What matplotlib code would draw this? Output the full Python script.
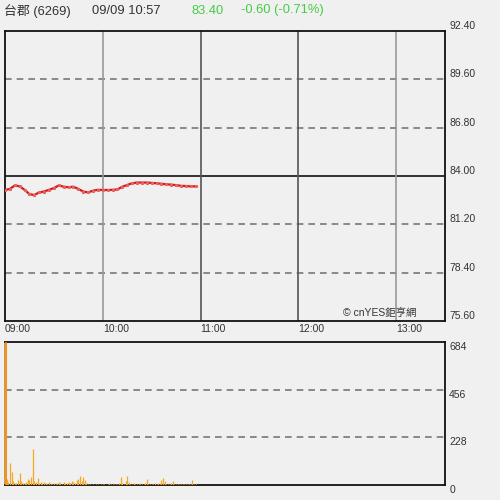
import matplotlib
matplotlib.use("Agg")
import matplotlib.pyplot as plt
import numpy as np

plt.rcParams['font.family'] = ['Liberation Sans', 'Noto Sans CJK TC', 'DejaVu Sans']

# ---- data ----
title_name = "台郡 (6269)"
title_time = "09/09 10:57"
last_price = "83.40"
change_text = "-0.60 (-0.71%)"
prev_close = 84.00

price_minutes = list(range(0, 118, 3))
price_values = [83.19, 83.25, 83.45, 83.40, 83.20, 82.95, 82.90, 83.05, 83.10, 83.20,
                83.30, 83.45, 83.38, 83.35, 83.38, 83.25, 83.10, 83.05, 83.15, 83.20,
                83.19, 83.19, 83.20, 83.22, 83.38, 83.48, 83.58, 83.62, 83.62, 83.62,
                83.60, 83.58, 83.55, 83.52, 83.50, 83.47, 83.43, 83.42, 83.40, 83.40]

volume_minutes = list(range(0, 118))
volume_values = [684, 30, 15, 105, 60, 20, 10, 8, 25, 57,
                 20, 10, 8, 15, 30, 25, 40, 172, 20, 15,
                 33, 10, 12, 8, 15, 10, 6, 12, 8, 5,
                 10, 5, 8, 15, 10, 6, 12, 10, 8, 15,
                 10, 20, 15, 10, 25, 30, 45, 20, 38, 25,
                 10, 5, 3, 2, 4, 2, 5, 3, 2, 6,
                 3, 4, 2, 5, 8, 4, 3, 5, 6, 4,
                 10, 38, 8, 5, 20, 43, 12, 6, 4, 8,
                 5, 6, 4, 10, 5, 6, 8, 30, 5, 6,
                 4, 5, 8, 6, 10, 5, 25, 33, 20, 6,
                 4, 5, 8, 20, 5, 4, 6, 3, 5, 4,
                 3, 6, 5, 4, 3, 25, 5, 4]

price_ticks = [75.60, 78.40, 81.20, 84.00, 86.80, 89.60, 92.40]
volume_ticks = [0, 228, 456, 684]
time_ticks = [0, 60, 120, 180, 240]
time_labels = ["09:00", "10:00", "11:00", "12:00", "13:00"]

bg = '#f0f0f0'
fig = plt.figure(figsize=(5, 5), dpi=100, facecolor=bg)

ax = fig.add_axes([0.01, 0.358, 0.88, 0.58], facecolor=bg)
axv = fig.add_axes([0.01, 0.03, 0.88, 0.286], facecolor=bg)

# ---- price panel ----
ax.set_xlim(0, 270)
ax.set_ylim(price_ticks[0], price_ticks[-1])
for p in price_ticks[1:-1]:
    if abs(p - prev_close) < 1e-6:
        ax.axhline(p, color='#222222', lw=1.3, zorder=2)
    else:
        ax.axhline(p, color='#777777', lw=1.2, ls=(0, (4, 3)), zorder=2)
vcolors = ['#999999', '#555555', '#555555', '#999999']
for t, c in zip(time_ticks[1:], vcolors):
    ax.axvline(t, color=c, lw=1.2, zorder=2)
ax.plot(price_minutes, price_values, color='#d41a1a', lw=1.6, zorder=4)
ax.plot(price_minutes, price_values, color='#e86060', lw=0, marker='s', ms=1.2, zorder=5)

ax.yaxis.tick_right()
ax.set_yticks(price_ticks)
ax.set_yticklabels([f"{p:.2f}" for p in price_ticks], fontsize=7.5, color='#333333')
for lbl in ax.get_yticklabels():
    lbl.set_verticalalignment('bottom')
ax.tick_params(axis='y', length=0, pad=3)
ax.set_xticks(time_ticks)
ax.set_xticklabels(time_labels, fontsize=7.5, color='#333333', ha='left')
ax.tick_params(axis='x', length=0, pad=2)
for s in ax.spines.values():
    s.set_color('#111111')
    s.set_linewidth(1.3)
ax.text(0.935, 0.01, "© cnYES鉅亨網", transform=ax.transAxes, ha='right', va='bottom',
        fontsize=7.5, color='#333333', zorder=6)

# ---- volume panel ----
axv.set_xlim(0, 270)
axv.set_ylim(0, volume_ticks[-1])
for v in volume_ticks[1:-1]:
    axv.axhline(v, color='#777777', lw=1.2, ls=(0, (4, 3)), zorder=2)
axv.vlines(volume_minutes, 0, volume_values, color='#f5a623', lw=0.9, zorder=3)
axv.vlines(volume_minutes[:1], 0, volume_values[:1], color='#e8952a', lw=2.2, zorder=4)
axv.yaxis.tick_right()
axv.set_yticks(volume_ticks)
axv.set_yticklabels([str(v) for v in volume_ticks], fontsize=7.5, color='#333333')
for lbl in axv.get_yticklabels():
    lbl.set_verticalalignment('top')
axv.tick_params(axis='y', length=0, pad=3)
axv.set_xticks([])
for s in axv.spines.values():
    s.set_color('#111111')
    s.set_linewidth(1.3)
axv.spines['left'].set_color('#d98a2b')

# ---- header ----
fig.text(0.008, 0.979, title_name, fontsize=9.3, color='#333333', va='center', ha='left')
fig.text(0.184, 0.979, title_time, fontsize=9.3, color='#333333', va='center', ha='left')
fig.text(0.382, 0.979, last_price, fontsize=9.3, color='#44cc44', va='center', ha='left')
fig.text(0.482, 0.979, change_text, fontsize=9.3, color='#44cc44', va='center', ha='left')

fig.savefig("out.png", dpi=100, facecolor=bg)
